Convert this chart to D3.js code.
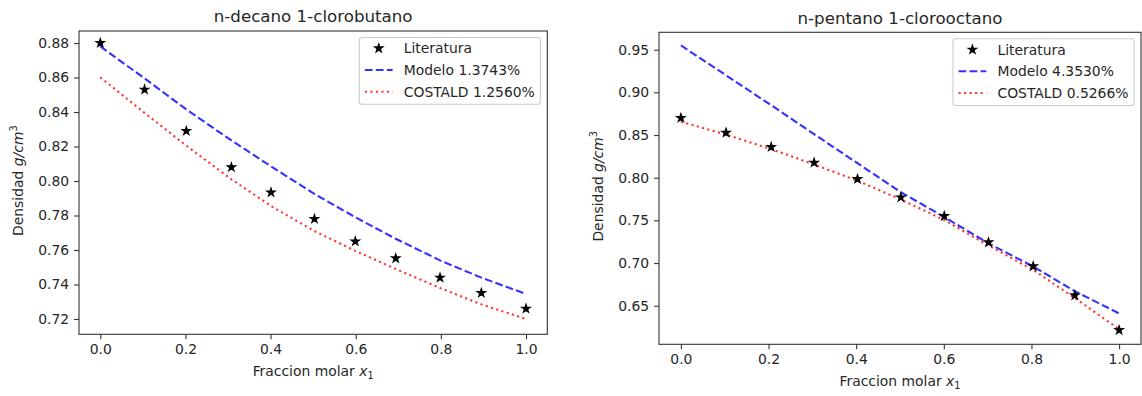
<!DOCTYPE html>
<html>
<head>
<meta charset="utf-8">
<script src="https://cdn.jsdelivr.net/npm/d3@7"></script>
<style>
  body { margin: 0; background: #fff; }
  svg { display: block; font-family: "DejaVu Sans", sans-serif; }
</style>
</head>
<body>
<svg id="chart" width="1142" height="396"></svg>
<script>
// mole fraction and density readings, left panel: n-decano / 1-clorobutano
const xA = [0, 0.104, 0.202, 0.308, 0.401, 0.503, 0.599, 0.694, 0.798, 0.895, 1.0];
const litA = [0.880, 0.853, 0.829, 0.808, 0.7934, 0.778, 0.765, 0.7552, 0.744, 0.7351, 0.726];
const modA = [0.878, 0.8595, 0.8415, 0.8235, 0.8085, 0.7925, 0.7790, 0.7665, 0.7540, 0.7440, 0.7345];
const costA = [0.8601, 0.8395, 0.8205, 0.8010, 0.7855, 0.7710, 0.7595, 0.7490, 0.7380, 0.7285, 0.7200];

// right panel: n-pentano / 1-clorooctano
const xB = [0, 0.103, 0.206, 0.304, 0.403, 0.502, 0.601, 0.702, 0.804, 0.899, 1.0];
const litB = [0.870, 0.8527, 0.836, 0.8176, 0.7985, 0.777, 0.7551, 0.7243, 0.6962, 0.6622, 0.6215];
const modB = [0.955, 0.920, 0.885, 0.851, 0.817, 0.783, 0.754, 0.723, 0.696, 0.667, 0.641];
const costB = [0.8656, 0.8505, 0.8335, 0.8155, 0.7965, 0.7745, 0.7505, 0.7205, 0.692, 0.659, 0.6225];

const xTicks = [0, 0.2, 0.4, 0.6, 0.8, 1.0];
const yTicksA = [0.72, 0.74, 0.76, 0.78, 0.80, 0.82, 0.84, 0.86, 0.88];
const yTicksB = [0.65, 0.70, 0.75, 0.80, 0.85, 0.90, 0.95];

const titles = ["n-decano 1-clorobutano", "n-pentano 1-clorooctano"];
const legendA = ["Literatura", "Modelo 1.3743%", "COSTALD 1.2560%"];
const legendB = ["Literatura", "Modelo 4.3530%", "COSTALD 0.5266%"];

const fs = 13.9;          // 10pt at the figure's scale
const txt = "#262626";
const svg = d3.select("#chart");

function panel(o) {
    const g = svg.append("g");

    const x = d3.scaleLinear().domain([-0.05, 1.05]).range([o.left, o.right]);
    const y = d3.scaleLinear().domain(o.ydom).range([o.bottom, o.top]);

    // axes
    const xAxis = d3.axisBottom(x).tickValues(xTicks).tickFormat(d3.format(".1f"))
        .tickSize(4.9).tickPadding(4.9);
    const yAxis = d3.axisLeft(y).tickValues(o.yticks).tickFormat(d3.format(".2f"))
        .tickSize(4.9).tickPadding(4.9);

    const gx = g.append("g").attr("transform", `translate(0,${o.bottom})`).call(xAxis);
    const gy = g.append("g").attr("transform", `translate(${o.left},0)`).call(yAxis);
    [gx, gy].forEach(a => {
        a.select(".domain").remove();
        a.selectAll("line").attr("stroke", "#333").attr("stroke-width", 1.1);
        a.selectAll("text").attr("fill", txt).style("font-size", fs + "px")
            .style("font-family", "DejaVu Sans");
    });

    // frame
    g.append("rect")
        .attr("x", o.left).attr("y", o.top)
        .attr("width", o.right - o.left).attr("height", o.bottom - o.top)
        .attr("fill", "none").attr("stroke", "#333").attr("stroke-width", 1.1);

    const line = d3.line().x(d => x(d[0])).y(d => y(d[1]));

    g.append("path")
        .datum(o.xs.map((v, i) => [v, o.mod[i]]))
        .attr("d", line)
        .attr("fill", "none").attr("stroke", "#0000ff").attr("stroke-opacity", 0.8)
        .attr("stroke-width", 2.1).attr("stroke-dasharray", "7.7,3.3");

    g.append("path")
        .datum(o.xs.map((v, i) => [v, o.cost[i]]))
        .attr("d", line)
        .attr("fill", "none").attr("stroke", "#ff0000").attr("stroke-opacity", 0.8)
        .attr("stroke-width", 2.1).attr("stroke-dasharray", "2.1,3.4");

    const star = d3.symbol().type(d3.symbolStar).size(20);
    g.selectAll(".lit")
        .data(o.xs.map((v, i) => [v, o.lit[i]]))
        .enter()
        .append("path")
        .attr("class", "lit")
        .attr("transform", d => `translate(${x(d[0])},${y(d[1])})`)
        .attr("d", star)
        .attr("fill", "#000").attr("stroke", "#000").attr("stroke-width", 1.3)
        .attr("stroke-linejoin", "miter");

    // title
    g.append("text")
        .attr("x", (o.left + o.right) / 2).attr("y", o.top - 8.8)
        .attr("text-anchor", "middle").attr("fill", txt)
        .style("font-size", (fs * 1.2) + "px")
        .text(o.title);

    // x label with italic x and subscript 1
    const xl = g.append("text")
        .attr("x", (o.left + o.right) / 2).attr("y", o.bottom + 41.5)
        .attr("text-anchor", "middle").attr("fill", txt)
        .style("font-size", fs + "px");
    xl.append("tspan").text("Fraccion molar ");
    xl.append("tspan").style("font-style", "italic").text("x");
    xl.append("tspan").attr("dy", 3).style("font-size", (fs * 0.7) + "px").text("1");

    // y label: Densidad g/cm^3
    const yl = g.append("text")
        .attr("transform", `translate(${o.left - 56},${(o.top + o.bottom) / 2 - 2}) rotate(-90)`)
        .attr("text-anchor", "middle").attr("fill", txt)
        .style("font-size", fs + "px");
    yl.append("tspan").text("Densidad ");
    yl.append("tspan").style("font-style", "italic").text("g/cm");
    yl.append("tspan").attr("dy", -6).style("font-size", (fs * 0.7) + "px").text("3");

    // legend
    const lg = g.append("g");
    const rows = [o.top + 17.3, o.top + 39, o.top + 60.7];
    const labels = lg.selectAll(".lab")
        .data(o.legend)
        .enter()
        .append("text")
        .attr("class", "lab")
        .attr("y", (d, i) => rows[i] + fs * 0.36)
        .attr("fill", txt)
        .style("font-size", fs + "px")
        .text(d => d);
    const tw = d3.max(labels.nodes(), n => n.getComputedTextLength());
    const bw = 3.6 * fs + tw;
    const bx = o.right - 0.5 * fs - bw;
    const hx = bx + 0.4 * fs;
    labels.attr("x", hx + 2.8 * fs);

    lg.insert("rect", ":first-child")
        .attr("x", bx).attr("y", o.top + 6.5)
        .attr("width", bw).attr("height", 66.7)
        .attr("rx", 2.8)
        .attr("fill", "#fff").attr("fill-opacity", 0.8)
        .attr("stroke", "#cccccc").attr("stroke-width", 1.1);

    lg.append("path")
        .attr("transform", `translate(${hx + fs},${rows[0]})`)
        .attr("d", star)
        .attr("fill", "#000").attr("stroke", "#000").attr("stroke-width", 1.3);
    lg.append("line")
        .attr("x1", hx).attr("x2", hx + 2 * fs).attr("y1", rows[1]).attr("y2", rows[1])
        .attr("stroke", "#0000ff").attr("stroke-opacity", 0.8)
        .attr("stroke-width", 2.1).attr("stroke-dasharray", "7.7,3.3");
    lg.append("line")
        .attr("x1", hx).attr("x2", hx + 2 * fs).attr("y1", rows[2]).attr("y2", rows[2])
        .attr("stroke", "#ff0000").attr("stroke-opacity", 0.8)
        .attr("stroke-width", 2.1).attr("stroke-dasharray", "2.1,3.4");
}

panel({
    left: 79, right: 547.3, top: 31, bottom: 334.3,
    ydom: [0.71113, 0.88696], yticks: yTicksA,
    xs: xA, lit: litA, mod: modA, cost: costA,
    title: titles[0], legend: legendA
});

panel({
    left: 659, right: 1141, top: 32.3, bottom: 344.3,
    ydom: [0.6048, 0.9704], yticks: yTicksB,
    xs: xB, lit: litB, mod: modB, cost: costB,
    title: titles[1], legend: legendB
});
</script>
</body>
</html>
